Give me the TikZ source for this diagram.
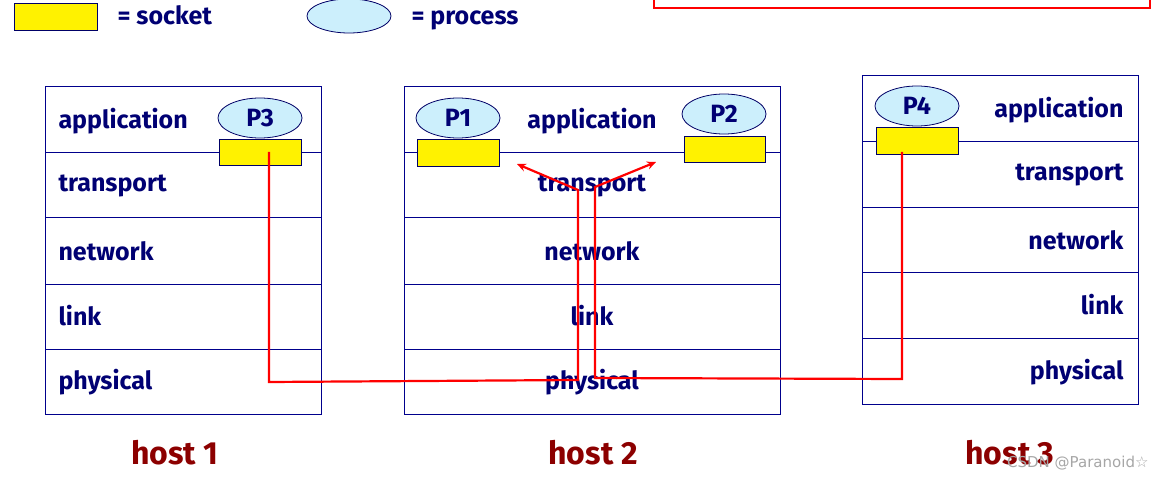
\documentclass[tikz,border=0pt]{standalone}
\usepackage{fontspec}
\setmainfont{Fira Sans}
\newfontfamily\wmfont{DejaVu Sans}
\usetikzlibrary{arrows.meta}
\begin{document}
\begin{tikzpicture}[x=1pt,y=-1pt,
  lay/.style={font=\fontsize{25}{28}\selectfont\bfseries, text=blue!45!black},
  box/.style={draw=blue!55!black, line width=1pt},
  sock/.style={draw=blue!40!black, fill=yellow, line width=0.8pt},
  proc/.style={draw=blue!40!black, fill=cyan!20, line width=0.8pt},
  host/.style={font=\fontsize{32}{36}\selectfont\bfseries, text=red!55!black},
  wire/.style={draw=red, line width=2.2pt},
  >={Stealth[length=9pt,width=8pt]}]
\useasboundingbox (0,0) rectangle (1165,481);
% legend
\draw[sock] (14,3) rectangle (97,30);
\node[lay, anchor=base west] (ls) at (114,25) {= socket};
\draw[proc] (349,16) ellipse (42 and 17);
\node[lay, anchor=base west] (lp) at (408,25) {= process};
\draw[red, line width=1.6pt] (654,-5) |- (1150,8) -- (1150,-5);
% host1
\foreach \y in {153,218,284,349} \draw[box] (45,\y) -- (321,\y);
\draw[box] (45,87) rectangle (321,414);
\node[lay,anchor=west] at (55,121) {application};
\node[lay,anchor=west] at (55,186) {transport};
\node[lay,anchor=west] at (55,251) {network};
\node[lay,anchor=west] at (55,316) {link};
\node[lay,anchor=west] at (55,382) {physical};
\draw[sock] (219,139) rectangle (301,165);
\draw[proc] (260,118) ellipse (42 and 20);
\node[lay] (p3) at (260,118) {P3};
% host2
\foreach \y in {153,218,284,349} \draw[box] (404,\y) -- (780,\y);
\draw[box] (404,87) rectangle (780,414);
\node[lay] at (592,121) {application};
\node[lay] at (592,186) {transport};
\node[lay] at (592,251) {network};
\node[lay] at (592,316) {link};
\node[lay] at (592,382) {physical};
\draw[sock] (417,139) rectangle (499,166);
\draw[proc] (458,118) ellipse (42 and 20);
\node[lay] at (458,118) {P1};
\draw[sock] (684,136) rectangle (765,162);
\draw[proc] (724,114) ellipse (42 and 20);
\node[lay] at (724,114) {P2};
% host3
\foreach \y in {142,208,273,338} \draw[box] (862,\y) -- (1138,\y);
\draw[box] (862,76) rectangle (1138,404);
\node[lay,anchor=east] at (1127,110) {application};
\node[lay,anchor=east] at (1127,175) {transport};
\node[lay,anchor=east] at (1127,240) {network};
\node[lay,anchor=east] at (1127,305) {link};
\node[lay,anchor=east] at (1127,372) {physical};
\draw[sock] (876,127) rectangle (958,154);
\draw[proc] (917,106) ellipse (42 and 20);
\node[lay] at (917,106) {P4};
% wires
\coordinate (a1) at (269,152);
\coordinate (t1) at (517,164);
\coordinate (a4) at (902,152);
\coordinate (t2) at (656,162);
\draw[wire,->] (a1) -- (269,382) -- (578,380) -- (578,190) -- (t1);
\draw[wire,->] (a4) -- (902,379) -- (595,378) -- (595,187) -- (t2);
% host labels
\node[host] at (175,453) {host 1};
\node[host] at (593,453) {host 2};
\node[host] at (1010,453) {host 3};
\node[text=gray!70, font=\wmfont\fontsize{15}{17}\selectfont, anchor=east] at (1152,463) {CSDN @Paranoid☆};
\end{tikzpicture}
\end{document}
